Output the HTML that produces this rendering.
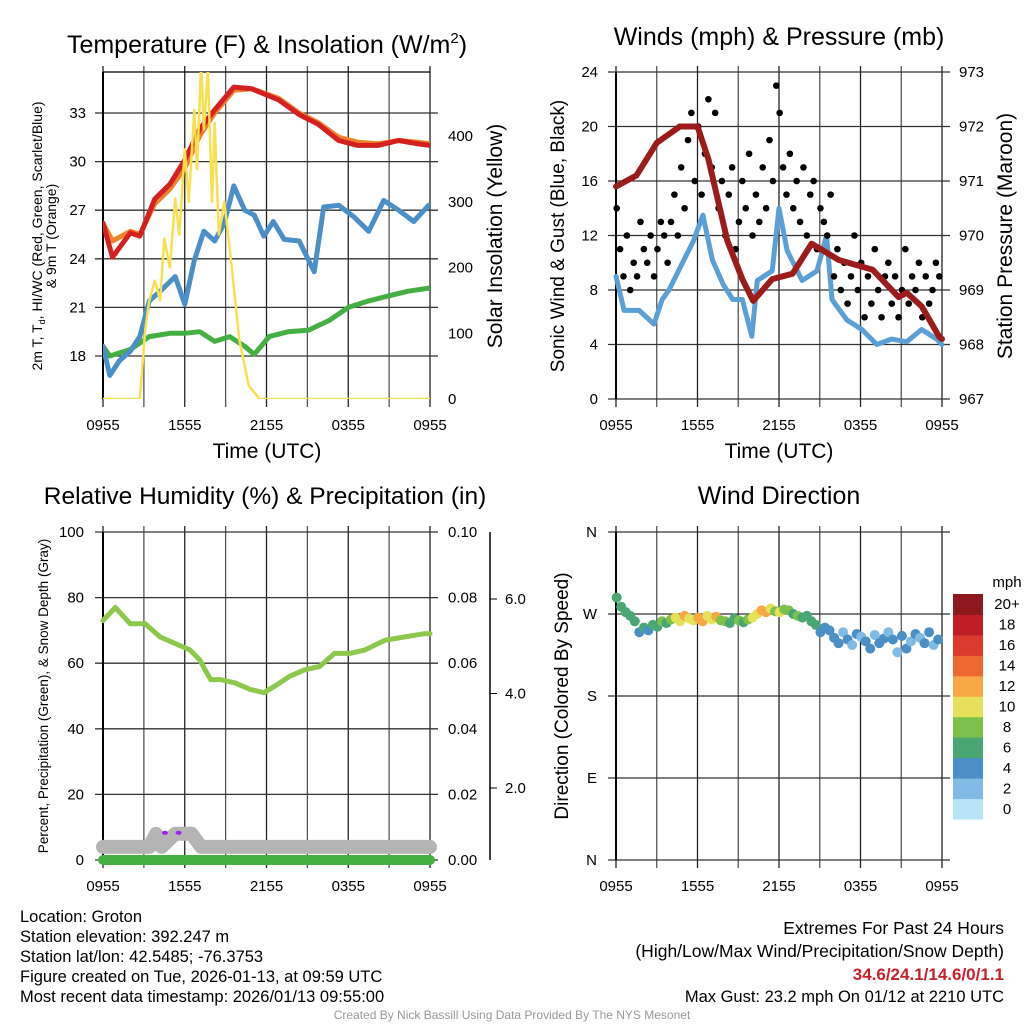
<!DOCTYPE html>
<html><head><meta charset="utf-8"><style>
body{margin:0;background:#fff;}
svg{display:block;font-family:"Liberation Sans",Arial,sans-serif;}
</style></head><body>
<svg id="c" width="1024" height="1024" viewBox="0 0 1024 1024"></svg>
<script>
// ---------- DATA ----------
const xTickLabels=["0955","1555","2155","0355","0955"];
// Panel 1 temperature (hours since 0955)
const redT=[0,0.7,2,2.7,3.8,4.9,6,7.1,8.2,9.6,10.9,12.9,14.4,15.8,17.3,18.7,20.2,21.7,23.1,24];
const redV=[26.2,24.1,25.6,25.4,27.7,28.6,30.1,32,33.2,34.6,34.5,33.8,32.9,32.3,31.3,31,31,31.3,31.1,31];
const orangeV=[26.2,25.1,25.7,25.5,27.4,28.3,29.6,31.6,33.0,34.4,34.5,33.9,33.0,32.4,31.5,31.2,31.1,31.3,31.2,31.1];
const blueT=[0,0.5,1.2,2,2.7,3.4,4.2,5.3,6,6.7,7.4,8.2,8.9,9.6,10.4,11.1,11.8,12.5,13.3,14.4,15.5,16.2,17.3,18.4,19.5,20.6,21.7,22.8,23.9];
const blueV=[18.6,16.8,17.7,18.3,19.2,21.4,22,22.9,21.2,23.9,25.7,25.1,26.2,28.5,27,26.7,25.4,26.3,25.2,25.1,23.2,27.2,27.3,26.6,25.7,27.6,27,26.3,27.3];
const greenT=[0,0.5,2,3.4,4.9,6,7.1,8.2,9.3,10.4,11.1,12.2,13.6,15.1,16.6,18,19.5,20.9,22.4,24];
const greenV=[18.6,18,18.4,19.2,19.4,19.4,19.5,18.9,19.2,18.6,18.1,19.2,19.5,19.6,20.2,21,21.4,21.7,22,22.2];
const solarT=[0,2.7,3.1,3.4,3.8,4.2,4.5,4.9,5.3,5.6,6,6.3,6.7,6.9,7.2,7.4,7.7,8,8.2,8.5,8.9,9.3,10,10.7,11.5,24];
const solarV=[0,0,105,150,180,150,244,200,305,250,380,300,440,350,510,410,500,300,420,250,300,230,90,20,0,0];
// Panel 2 winds & pressure
const presT=[0,1.5,3,4.7,6,6.8,8.2,9.3,10.1,11.5,13,14.4,15.4,16.4,18.9,20.8,21.4,22.5,23.8,24];
const presV=[970.9,971.1,971.7,972,972,971.4,969.9,969.2,968.8,969.2,969.3,969.85,969.7,969.55,969.37,968.87,968.95,968.7,968.14,968.1];
const windT=[0,0.6,1.7,2.8,3.4,3.9,5,5.7,6.4,7.1,7.9,8.6,9.3,10,10.4,11.5,12,12.6,13.7,14.8,15.5,15.9,17,18.1,19.2,20.3,21.4,22.5,23.6,24];
const windV=[9,6.5,6.5,5.5,7.3,8,10.2,11.6,13.5,10.2,8.4,7.3,7.3,4.6,8.7,9.4,14,10.9,8.7,9.4,12,7.3,5.8,5.1,4,4.4,4.2,5.1,4.4,4];
const gustV=[14,11,9,12,8,10,9,13,11,10,12,9,11,13,12,10,
13,15,12,17,14,19,21,16,20,15,18,22,17,21,14,16,
12,15,17,11,13,16,14,18,12,15,13,17,14,19,16,23,
21,17,15,18,14,16,13,17,12,15,16,11,14,13,12,15,
9,11,8,10,7,9,12,8,10,6,9,7,11,8,6,9,
10,7,9,6,8,11,7,9,8,10,6,9,7,8,10,9];
// Panel 3 RH
const rhT=[0,0.9,2,3.1,4.2,5.3,6.4,7.1,7.9,8.6,9.7,10.8,11.8,12.6,13.7,14.8,15.9,17,18.1,19.2,20.7,22.1,23.6,24];
const rhV=[73,77,72,72,68,66,64,61,55,55,54,52,51,53,56,58,59,63,63,64,67,68,69,69];
const snowT=[0,3.4,3.9,4.3,5.3,5.9,6.5,7.2,24];
const snowV=[4,4,8,4,8,8,8,4,4];
const precipV=[0,0];
// Panel 4 wind direction (every 1/3 hour)
const dirV=[288,278,272,268,262,250,
255,252,258,256,262,260,
264,266,262,268,265,263,
266,262,268,264,267,263,
262,260,265,263,261,264,
266,270,274,272,276,273,
272,275,274,270,268,266,
268,262,258,250,255,252,
244,238,250,242,236,248,
245,240,232,247,238,243,
250,242,228,246,232,240,
248,244,238,250,236,242];
const spdV=[7,7,6,6,7,5,
6,5,6,7,8,6,
9,10,11,12,10,11,
13,12,10,11,12,9,
8,7,7,8,7,8,
10,11,12,13,11,9,
10,9,8,7,8,6,
7,6,7,5,5,4,
4,4,3,4,3,4,3,4,4,3,4,4,3,4,3,4,4,3,4,3,4,4,3,4];
const cbLabels=["0","2","4","6","8","10","12","14","16","18","20+"];
const cbColors=["#b9e4f8","#7fbbe4","#4a8fc6","#4aa673","#7cc24a","#e6e05a","#f5a844","#ee6630","#dc3a2c","#bf1e26","#8c181c"];

// ---------- DRAW ----------
const S=document.getElementById('c');const NS='http://www.w3.org/2000/svg';
function el(tag,at,parent){const e=document.createElementNS(NS,tag);for(const k in at)e.setAttribute(k,at[k]);(parent||S).appendChild(e);return e;}
function txt(x,y,s,size,anchor,rot,name,fill){const t=el('text',{x:x,y:y,'font-size':size,'text-anchor':anchor||'middle',fill:fill||'#000'});if(rot)t.setAttribute('transform','rotate(-90 '+x+' '+y+')');t.textContent=s;return t;}
function lin(d0,d1,r0,r1){return v=>r0+(v-d0)*(r1-r0)/(d1-d0);}
function path(xs,ys,fx,fy,stroke,w,name){let d='';for(let i=0;i<xs.length;i++){d+=(i?'L':'M')+fx(xs[i]).toFixed(1)+' '+fy(ys[i]).toFixed(1);}const p=el('path',{d:d,fill:'none',stroke:stroke,'stroke-width':w,'stroke-linejoin':'round','stroke-linecap':'round'});return p;}
function grid(x0,x1,y0,y1,yticks,fy,name){
  const g=el('g',{});
  for(let i=0;i<=8;i++){const x=x0+(x1-x0)*i/8;el('line',{x1:x,y1:y0-6,x2:x,y2:y1+8,stroke:i%2?'#555':'#222','stroke-width':1.3},g);}
  yticks.forEach(v=>{const y=fy(v);el('line',{x1:x0-8,y1:y,x2:x1+8,y2:y,stroke:'#333','stroke-width':1.3},g);});
  el('line',{x1:x0,y1:y0,x2:x0,y2:y1,stroke:'#000','stroke-width':2},g);
  xTickLabels.forEach((s,i)=>txt(x0+(x1-x0)*i/4,y1+31,s,15,'middle',false,'x-tick-label'));
}
// Panel 1
{const x0=103,x1=430,y0=72,y1=399;const fx=lin(0,24,x0,x1),fy=lin(18,33,356,113),fs=lin(0,400,399,136);
 const tt0=el('text',{x:267,y:53,'font-size':25,'text-anchor':'middle'});
 tt0.innerHTML='Temperature (F) &amp; Insolation (W/m<tspan font-size="15" dy="-10">2</tspan><tspan dy="10">)</tspan>';
 grid(x0,x1,y0,y1,[18,21,24,27,30,33],fy,'temp-grid');
 el('line',{x1:x0,y1:y0,x2:x1,y2:y0,stroke:'#000','stroke-width':1.3});
 [18,21,24,27,30,33].forEach(v=>txt(86,fy(v)+5,String(v),15,'end',false,'temp-y-tick'));
 [0,100,200,300,400].forEach(v=>txt(448,fs(v)+5,String(v),15,'start',false,'solar-y-tick'));
 const cp=el('clipPath',{id:'cp1'});el('rect',{x:x0,y:y0,width:x1-x0,height:y1-y0},cp);
 const g=el('g',{'clip-path':'url(#cp1)'});
 g.appendChild(path(greenT,greenV,fx,fy,'#44b044',5,'dewpoint-line'));
 g.appendChild(path(blueT,blueV,fx,fy,'#4a8fc8',5,'windchill-line'));
 g.appendChild(path(redT,orangeV,fx,fy,'#f0822a',5,'temp-9m-line'));
 g.appendChild(path(redT,redV,fx,fy,'#d42020',5,'temp-2m-line'));
 g.appendChild(path(solarT,solarV,fx,fs,'#f8e050',2.5,'solar-line'));
 const tt=el('text',{x:42,y:236,'font-size':14,'text-anchor':'middle',transform:'rotate(-90 42 236)'});
 tt.innerHTML='2m T, T<tspan font-size="9" dy="3">d</tspan><tspan dy="-3">, HI/WC (Red, Green, Scarlet/Blue)</tspan>';
 txt(56,236,'& 9m T (Orange)',14,'middle',true,'temp-y-title-2');
 txt(502,236,'Solar Insolation (Yellow)',21,'middle',true,'solar-y-title');
 txt(267,458,'Time (UTC)',21,'middle',false,'temp-x-title');
}
// Panel 2
{const x0=616,x1=942,y0=72,y1=399;const fx=lin(0,24,x0,x1),fy=lin(0,24,399,72),fp=lin(967,973,399,72);
 txt(779,45,'Winds (mph) & Pressure (mb)',25,'middle',false,'wind-title');
 grid(x0,x1,y0,y1,[0,4,8,12,16,20,24],fy,'wind-grid');
 [0,4,8,12,16,20,24].forEach(v=>txt(598,fy(v)+5,String(v),15,'end',false,'wind-y-tick'));
 [967,968,969,970,971,972,973].forEach(v=>txt(959,fp(v)+5,String(v),15,'start',false,'pressure-y-tick'));
 path(windT,windV,fx,fy,'#5a9fd6',5,'sonic-wind-line');
 const gg=el('g',{});
 gustV.forEach((v,i)=>{const c=el('circle',{cx:fx(i*0.25+0.05),cy:fy(v),r:3.3,fill:'#000'},gg);});
 path(presT,presV,fx,fp,'#9c1c1c',6,'pressure-line');
 txt(564,236,'Sonic Wind & Gust (Blue, Black)',19,'middle',true,'wind-y-title');
 txt(1012,236,'Station Pressure (Maroon)',21,'middle',true,'pressure-y-title');
 txt(779,458,'Time (UTC)',21,'middle',false,'wind-x-title');
}
// Panel 3
{const x0=103,x1=430,y0=532,y1=860;const fx=lin(0,24,x0,x1),fy=lin(0,100,860,532),fe=lin(2,6,788,599);
 txt(265,504,'Relative Humidity (%) & Precipitation (in)',24.5,'middle',false,'rh-title');
 grid(x0,x1,y0,y1,[0,20,40,60,80,100],fy,'rh-grid');
 [0,20,40,60,80,100].forEach(v=>txt(84,fy(v)+5,String(v),15,'end',false,'rh-y-tick'));
 ['0.00','0.02','0.04','0.06','0.08','0.10'].forEach((s,i)=>txt(448,fy(i*20)+5,s,15,'start',false,'precip-y-tick'));
 el('line',{x1:490,y1:532,x2:490,y2:860,stroke:'#000','stroke-width':1.5});
 [2,4,6].forEach(v=>{el('line',{x1:490,y1:fe(v),x2:497,y2:fe(v),stroke:'#000'});txt(505,fe(v)+5,v.toFixed(1),15,'start',false,'snow-y-tick');});
 path(rhT,rhV,fx,fy,'#8cc84a',5,'rh-line');
 path(snowT,snowV,fx,fy,'#b4b4b4',14,'snow-depth-line');
 path([0,24],precipV,fx,fy,'#44b044',10,'precip-line');
 [4.4,5.4].forEach(h=>el('ellipse',{cx:fx(h)+2,cy:fy(8.3),rx:3,ry:2,fill:'#a020f0'}));
 txt(48,696,'Percent, Precipitation (Green), & Snow Depth (Gray)',13.5,'middle',true,'rh-y-title');
}
// Panel 4
{const x0=616,x1=942,y0=532,y1=860;const fx=lin(0,24,x0,x1),fy=lin(0,360,860,532);
 txt(779,504,'Wind Direction',25,'middle',false,'dir-title');
 const g=el('g',{});
 for(let i=0;i<=8;i++){const x=x0+(x1-x0)*i/8;el('line',{x1:x,y1:y0-6,x2:x,y2:y1+8,stroke:i%2?'#555':'#222','stroke-width':1.3},g);}
 [0,90,180,270,360].forEach(v=>el('line',{x1:x0-8,y1:fy(v),x2:x1+8,y2:fy(v),stroke:'#333','stroke-width':1.3},g));
 el('line',{x1:x0,y1:y0,x2:x0,y2:y1,stroke:'#000','stroke-width':2},g);
 xTickLabels.forEach((s,i)=>txt(x0+(x1-x0)*i/4,y1+31,s,15,'middle',false,'x-tick-label'));
 ['N','E','S','W','N'].forEach((s,i)=>txt(597,fy(i*90)+5,s,15,'end',false,'dir-y-tick'));
 dirV.forEach((d,i)=>{const b=Math.min(10,Math.floor(spdV[i]/2));const c=el('circle',{cx:fx(i/3+0.05),cy:fy(d),r:5,fill:cbColors[b]});});
 txt(568,696,'Direction (Colored By Speed)',19,'middle',true,'dir-y-title');
 txt(1007,587,'mph',15,'middle',false,'colorbar-title');
 const bh=(819-594)/11;
 cbColors.forEach((c,i)=>{const y=819-(i+1)*bh;const r=el('rect',{x:953,y:y,width:30,height:bh+0.5,fill:c});txt(1007,y+bh/2+5,cbLabels[i],15,'middle',false,'colorbar-label');});
}
// footer
['Location: Groton','Station elevation: 392.247 m','Station lat/lon: 42.5485; -76.3753','Figure created on Tue, 2026-01-13, at 09:59 UTC','Most recent data timestamp: 2026/01/13 09:55:00'].forEach((s,i)=>txt(20,922+i*20,s,16.5,'start',false,'station-info-line'));
txt(1004,934,'Extremes For Past 24 Hours',17.5,'end',false,'extremes-title');
txt(1004,957,'(High/Low/Max Wind/Precipitation/Snow Depth)',17.5,'end',false,'extremes-subtitle');
const ex=txt(1004,980,'34.6/24.1/14.6/0/1.1',17,'end',false,'extremes-values','#c8202a');ex.setAttribute('font-weight','bold');
txt(1004,1002,'Max Gust: 23.2 mph On 01/12 at 2210 UTC',16.5,'end',false,'max-gust');
txt(512,1019,'Created By Nick Bassill Using Data Provided By The NYS Mesonet',12,'middle',false,'credit','#999');
</script>
</body></html>
